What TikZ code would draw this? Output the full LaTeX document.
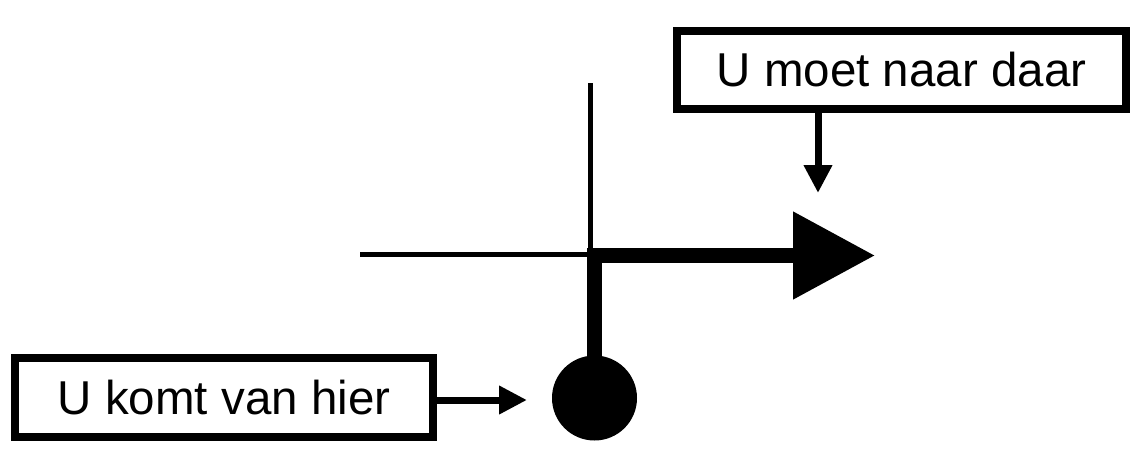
\documentclass[tikz,border=0pt]{standalone}
\usepackage{fontspec}
\setmainfont{Liberation Sans}
\usetikzlibrary{arrows.meta}
\begin{document}
\begin{tikzpicture}[x=1pt,y=-1pt,
  labelbox/.style={draw=black, line width=8pt, fill=white, inner sep=0pt,
    font=\fontsize{47.5}{56}\selectfont},
  thinline/.style={line width=5pt, line cap=butt},
  thickarrow/.style={line width=15pt, line join=miter, -{Triangle[length=82pt,width=84pt]}},
  smallarrow/.style={line width=7pt, -{Triangle[length=28pt,width=27pt]}},
  dot/.style={circle, fill=black, draw=none, inner sep=0pt, minimum size=85pt}]
\fill[white] (0,0) rectangle (1140,467);
\useasboundingbox (0,0) rectangle (1140,467);
\node[labelbox, minimum width=449pt, minimum height=78pt] (top) at (901.5,70) {U moet naar daar};
\node[labelbox, minimum width=418pt, minimum height=79pt] (bot) at (224,397.5) {U komt van hier};
\node[dot] (circ) at (594.5,398) {};
\coordinate (hl) at (360,254);
\coordinate (hr) at (588,254);
\coordinate (vt) at (590.5,83);
\coordinate (vb) at (590.5,254);
\coordinate (tip) at (875,255.5);
\coordinate (dtip) at (818,193);
\coordinate (ctip) at (527,400);
\draw[thinline] (hl) -- (hr);
\draw[thinline] (vt) -- (vb);
\draw[thickarrow] (circ.center) |- (tip);
\draw[smallarrow] (top.south -| dtip) -- (dtip);
\draw[smallarrow] (bot.east |- ctip) -- (ctip);
\end{tikzpicture}
\end{document}
